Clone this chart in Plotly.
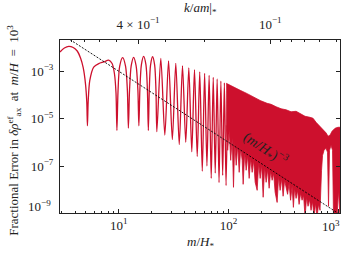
import plotly.graph_objects as go
import math

# ---------------- data ----------------
# resolved oscillating part of the fractional error curve (m/H_*, value)
curve_m = [2.92, 3.2, 3.51, 3.85, 4.19, 4.5, 4.75, 4.98, 5.12, 5.19, 5.27, 5.45,
           5.92, 6.58, 7.3, 8.11, 8.71, 9.14, 9.45, 9.63, 9.85, 10.2, 10.86,
           11.55, 12.0, 12.25, 12.55, 13.0, 13.67, 14.4, 14.95, 15.26, 15.6,
           16.1, 16.86, 17.7, 18.25, 18.62, 19.0, 19.5, 20.35, 21.25, 21.85,
           22.25, 24.18, 26.3, 28.45, 30.8, 33.1, 35.6, 38.1, 40.8, 43.5, 46.3,
           49.0, 51.9, 54.7, 57.7, 60.6, 63.6, 66.6, 69.6, 72.6, 75.7, 78.8,
           82.0, 85.2, 88.5, 91.7, 95.0, 98.5]
curve_val = [6.5e-3, 9.5e-3, 1.12e-2, 1.0e-2, 7.1e-3, 3.5e-3, 1.4e-3, 3.0e-4, 5e-5, 5e-6, 5e-5, 4e-4,
             1.5e-3, 2.1e-3, 2.45e-3, 2.9e-3, 2.1e-3, 8e-4, 1.2e-4, 3.2e-6, 1.3e-4, 1.6e-3, 3.75e-3,
             1.6e-3, 1.5e-4, 4e-6, 1.6e-4, 1.7e-3, 3.86e-3, 1.7e-3, 1.6e-4, 5e-6, 1.8e-4,
             1.9e-3, 4.25e-3, 1.9e-3, 1.7e-4, 3.2e-6, 1.7e-4, 1.8e-3, 4.06e-3, 1.8e-3, 1.5e-4,
             2.8e-6, 3.5e-3, 2.0e-6, 2.75e-3, 1.3e-6, 2.15e-3, 8e-7, 1.69e-3, 1e-6, 1.39e-3, 4e-7,
             1.15e-3, 2.5e-7, 9.4e-4, 6e-8, 8.1e-4, 1e-7, 6.7e-4, 3e-8, 5.5e-4, 5e-8, 4.7e-4,
             2e-8, 3.8e-4, 4e-8, 3.2e-4, 1.5e-8, 2.8e-4]

# dense (unresolved) region: upper envelope
band_top_m = [95.3, 110.3, 127.8, 148.0, 167.7, 194.2, 224.8, 244.5, 271.4, 301.4,
              334.6, 371.5, 412.6, 448.5, 498.0, 552.9, 588.8, 626.9, 681.7, 726.0,
              773.0, 806.1, 840.5, 876.4, 933.3, 993.8, 1058.0]
band_top_val = [3.1e-4, 2.15e-4, 1.56e-4, 1.13e-4, 8.1e-5, 5.8e-5, 4.4e-5, 4.0e-5, 3.15e-5, 2.6e-5,
                2.35e-5, 1.94e-5, 2.03e-5, 1.67e-5, 1.25e-5, 1.13e-5, 1.03e-5, 7.0e-6, 4.7e-6, 3.5e-6,
                2.5e-6, 1.8e-6, 2.0e-6, 2.9e-6, 3.9e-6, 4.3e-6, 4.3e-6]

# dense region: ragged lower edge (deep dips)
band_low_m = [95.3, 98.3, 101.5, 104.7, 108.1, 111.0, 113.9, 117.5, 121.2, 125.1, 129.1,
              133.2, 136.0, 140.4, 144.8, 149.5, 154.2, 159.2, 164.2, 169.5, 174.9, 182.4,
              188.2, 194.2, 200.4, 206.8, 213.3, 220.2, 227.2, 234.4, 241.9, 249.7, 257.6,
              265.8, 277.2, 286.0, 295.1, 304.5, 314.3, 324.3, 334.6, 345.2, 356.3, 367.6,
              379.4, 389.9, 399.8, 412.6, 425.8, 439.3, 453.3, 467.7, 482.6, 498.0, 513.9,
              530.2, 547.1, 564.6, 582.6, 601.2, 620.3, 640.2, 660.7, 681.7, 703.5, 718.4,
              741.3, 773.0, 797.7, 814.6, 831.8, 858.3, 885.7, 904.4, 973.2, 1004.0, 1036.0,
              1058.0]
band_low_val = [5.2e-6, 4.6e-7, 3.2e-6, 1.74e-7, 1.48e-6, 1.26e-8, 1.0e-6, 1.07e-7, 7.5e-7, 5.4e-8, 5.6e-7,
                1.74e-7, 1.69e-8, 3.8e-7, 6.6e-8, 2.8e-7, 3.0e-8, 2.1e-7, 5.4e-8, 1.74e-7, 2.05e-8, 9.4e-9,
                1.3e-7, 3.0e-8, 1.07e-7, 4.8e-9, 8.8e-8, 2.05e-8, 7.3e-8, 1.15e-8, 6.0e-8, 2.5e-8, 4.9e-8,
                7.8e-9, 2.9e-9, 3.7e-8, 9.4e-9, 3.0e-8, 5.3e-9, 2.5e-8, 1.15e-8, 6.4e-9, 1.86e-8, 3.6e-9,
                1.39e-8, 1.8e-9, 1.15e-8, 4.3e-9, 9.4e-9, 2.4e-9, 7.0e-9, 3.6e-9, 5.8e-9, 7e-10, 4.8e-9,
                2.0e-9, 3.9e-9, 1.35e-9, 3.2e-9, 7e-10, 2.7e-9, 7e-10, 2.4e-9, 1.35e-9, 6.6e-8, 2.8e-7,
                4.6e-7, 5.6e-7, 3.8e-7, 2.0e-9, 4.6e-7, 7.5e-7, 4.6e-7, 7e-10, 7e-10, 9.4e-9, 7e-10,
                7e-10]

# (m/H_*)^-3 guide line end points
guide_m = [3.0, 1000.0]
guide_val = [3.7e-2, 1.0e-9]

# axes
x_range_m = [2.92, 1036.0]
y_range_val = [1.04e-9, 2.07e-2]
x_ticks = [10, 100, 1000]
x_tick_text = ["10<sup>1</sup>", "10<sup>2</sup>", ""]
x_minor = [3, 4, 5, 6, 7, 8, 9, 20, 30, 40, 50, 60, 70, 80, 90,
           200, 300, 400, 500, 600, 700, 800, 900]
y_ticks = [1e-3, 1e-5, 1e-7]
y_tick_text = ["10<sup>−3</sup>", "10<sup>−5</sup>", "10<sup>−7</sup>"]
k_coeff = 1.55  # k/am|_* = k_coeff * (m/H_*)^(-1/2)
k_ticks = [0.4, 0.1]
k_tick_text = ["4 × 10<sup>−1</sup>", "10<sup>−1</sup>"]
k_minor = [0.9, 0.8, 0.7, 0.6, 0.5, 0.3, 0.2, 0.09, 0.08, 0.07, 0.06, 0.05]

# ---------------- figure ----------------
RED = "#cd102d"
INK = "#222222"
FONT = "Liberation Serif"
TS = 13

fig = go.Figure()

fig.add_trace(go.Scatter(
    x=band_top_m + band_low_m[::-1],
    y=band_top_val + band_low_val[::-1],
    mode="lines", fill="toself", fillcolor=RED,
    line=dict(color=RED, width=0.8), hoverinfo="skip", showlegend=False))

fig.add_trace(go.Scatter(
    x=curve_m, y=curve_val, mode="lines",
    line=dict(color=RED, width=1.3, shape="spline", smoothing=0.8),
    hoverinfo="skip", showlegend=False))

fig.add_trace(go.Scatter(
    x=guide_m, y=guide_val, mode="lines",
    line=dict(color="black", width=0.9, dash="2px,1.5px"),
    hoverinfo="skip", showlegend=False))

lxr = [math.log10(v) for v in x_range_m]
k_range = [math.log10(k_coeff) - 0.5 * lxr[0], math.log10(k_coeff) - 0.5 * lxr[1]]

# invisible trace so that the top axis is drawn
fig.add_trace(go.Scatter(x=[0.5, 0.05], y=[None, None], xaxis="x2", mode="lines",
                         line=dict(color=INK), hoverinfo="skip", showlegend=False))

axis_common = dict(showline=True, linecolor=INK, linewidth=1.1,
                   showgrid=False, zeroline=False, ticks="inside",
                   tickcolor=INK, tickwidth=1,
                   tickfont=dict(family=FONT, size=TS, color=INK))

fig.update_layout(
    width=341, height=254,
    margin=dict(l=60, r=1, t=40, b=41),
    paper_bgcolor="white", plot_bgcolor="white",
    xaxis=dict(type="log", range=lxr, tickmode="array", tickvals=x_ticks,
               ticktext=x_tick_text, ticklen=4, mirror=False,
               minor=dict(tickvals=x_minor, ticks="inside", ticklen=2,
                          tickcolor=INK, tickwidth=1, showgrid=False),
               **axis_common),
    xaxis2=dict(type="log", range=k_range, overlaying="x", side="top", anchor="y",
                tickmode="array", tickvals=k_ticks, ticktext=k_tick_text, ticklen=4,
                ticklabelstandoff=5,
                minor=dict(tickvals=k_minor, ticks="inside", ticklen=2,
                           tickcolor=INK, tickwidth=1, showgrid=False),
                **axis_common),
    yaxis=dict(type="log", range=[math.log10(v) for v in y_range_val],
               tickmode="array", tickvals=y_ticks, ticktext=y_tick_text,
               ticklen=4, mirror="ticks", ticklabelstandoff=3, **axis_common),
)

ann_font = dict(family=FONT, size=TS, color=INK)
fig.add_annotation(text="10<sup>−9</sup>", xref="paper", yref="paper",
                   x=-0.024, y=0.04, xanchor="right", yanchor="middle",
                   showarrow=False, font=ann_font)
fig.add_annotation(text="10<sup>3</sup>", xref="paper", yref="paper",
                   x=0.968, y=-0.02, xanchor="center", yanchor="top",
                   showarrow=False, font=ann_font)
fig.add_annotation(text="<i>m</i>/<i>H</i><sub>*</sub>", xref="paper", yref="paper",
                   x=0.5, y=-0.172, xanchor="center", yanchor="middle",
                   showarrow=False, font=ann_font)
fig.add_annotation(text="<i>k</i>/<i>am</i>|<sub>*</sub>", xref="paper", yref="paper",
                   x=0.5, y=1.18, xanchor="center", yanchor="middle",
                   showarrow=False, font=ann_font)
fig.add_annotation(text="Fractional Error in <i>δρ</i><sup>ef</sup><sub>ax</sub>&nbsp; at&nbsp; <i>m</i>/<i>H</i>&nbsp; = &nbsp;10<sup>3</sup>",
                   xref="paper", yref="paper", x=-0.165, y=0.48,
                   xanchor="center", yanchor="middle", textangle=-90,
                   showarrow=False, font=ann_font)
fig.add_annotation(text="(<i>m</i>/<i>H</i><sub>*</sub>)<sup>−3</sup>",
                   xref="paper", yref="paper", x=0.735, y=0.37,
                   xanchor="center", yanchor="middle", textangle=33,
                   showarrow=False, font=dict(family=FONT, size=14, color=INK))

fig.write_html("out.html", config={"displayModeBar": False},
               post_script="document.body.style.margin='0px';")
